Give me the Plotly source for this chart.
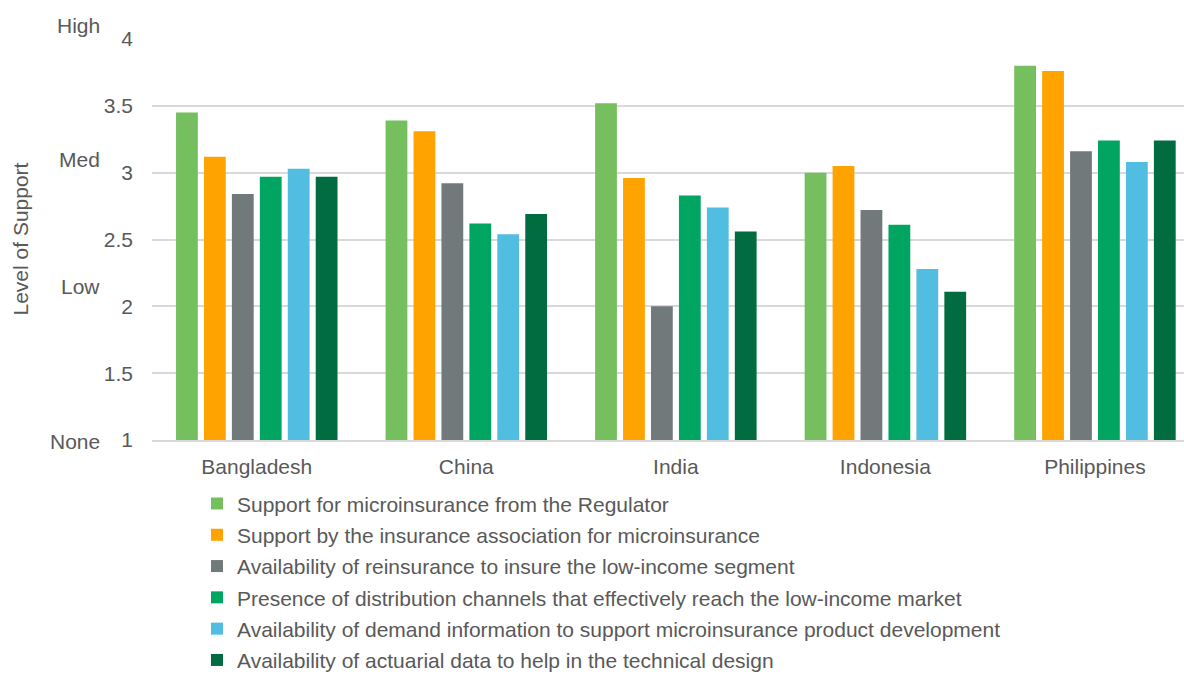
import plotly.graph_objects as go

countries = ["Bangladesh", "China", "India", "Indonesia", "Philippines"]

regulator = [3.45, 3.39, 3.52, 3.00, 3.80]
association = [3.12, 3.31, 2.96, 3.05, 3.76]
reinsurance = [2.84, 2.92, 2.00, 2.72, 3.16]
distribution = [2.97, 2.62, 2.83, 2.61, 3.24]
demand_info = [3.03, 2.54, 2.74, 2.28, 3.08]
actuarial = [2.97, 2.69, 2.56, 2.11, 3.24]

series_names = [
    "Support for microinsurance from the Regulator",
    "Support by the insurance association for microinsurance",
    "Availability of reinsurance to insure the low-income segment",
    "Presence of distribution channels that effectively reach the low-income market",
    "Availability of demand information to support microinsurance product development",
    "Availability of actuarial data to help in the technical design",
]
series_values = [regulator, association, reinsurance, distribution, demand_info, actuarial]
colors = ["#75BF5F", "#FFA300", "#72797B", "#00A562", "#51BDE0", "#006C3F"]

y_ticks = [1, 1.5, 2, 2.5, 3, 3.5, 4]
y_tick_text = ["1", "1.5", "2", "2.5", "3", "3.5", "4"]
level_labels = ["High", "Med", "Low", "None"]
level_values = [4.1, 3.1, 2.15, 0.99]

FONT = "Liberation Sans, Arial, sans-serif"
GREY = "#595959"
Y_MIN, Y_MAX = 1, 4

fig = go.Figure()
for i, (name, vals, col) in enumerate(zip(series_names, series_values, colors)):
    fig.add_trace(go.Bar(
        x=countries, y=vals, name=name, marker_color=col,
        marker_line_width=0, legendgroup=f"g{i}",
    ))

annotations = []
for lab, val in zip(level_labels, level_values):
    annotations.append(dict(
        text=lab, x=-50 / 1032, xref="paper",
        y=(val - Y_MIN) / (Y_MAX - Y_MIN), yref="paper",
        xanchor="right", yanchor="middle", showarrow=False,
        font=dict(family=FONT, size=21, color=GREY),
    ))
annotations.append(dict(
    text="Level of Support", textangle=-90, x=-132 / 1032, xref="paper",
    y=0.5, yref="paper", xanchor="center", yanchor="middle", showarrow=False,
    font=dict(family=FONT, size=21, color=GREY),
))

fig.update_layout(
    width=1184, height=675,
    margin=dict(l=152, r=0, t=39, b=235, autoexpand=False),
    plot_bgcolor="white", paper_bgcolor="white",
    barmode="group", bargap=0.2, bargroupgap=0.22,
    font=dict(family=FONT, size=21, color=GREY),
    xaxis=dict(
        range=[-0.5, 4.425], showgrid=False, showline=True,
        linecolor="#D9D9D9", linewidth=1.5, ticks="",
        ticklabelstandoff=7,
        tickfont=dict(family=FONT, size=21, color=GREY), fixedrange=True,
    ),
    yaxis=dict(
        range=[Y_MIN, Y_MAX], tickvals=y_ticks, ticktext=y_tick_text,
        showgrid=True, gridcolor="#D9D9D9", gridwidth=1.5,
        zeroline=False, showline=False, ticks="",
        ticklabelstandoff=18,
        tickfont=dict(family=FONT, size=21, color=GREY), fixedrange=True,
    ),
    legend=dict(
        x=45 / 1032, xanchor="left", y=-0.108, yanchor="top",
        orientation="v", tracegroupgap=1,
        font=dict(family=FONT, size=21, color=GREY),
        bgcolor="rgba(0,0,0,0)",
    ),
    annotations=annotations,
    showlegend=True,
)

fig.write_html("out.html")
